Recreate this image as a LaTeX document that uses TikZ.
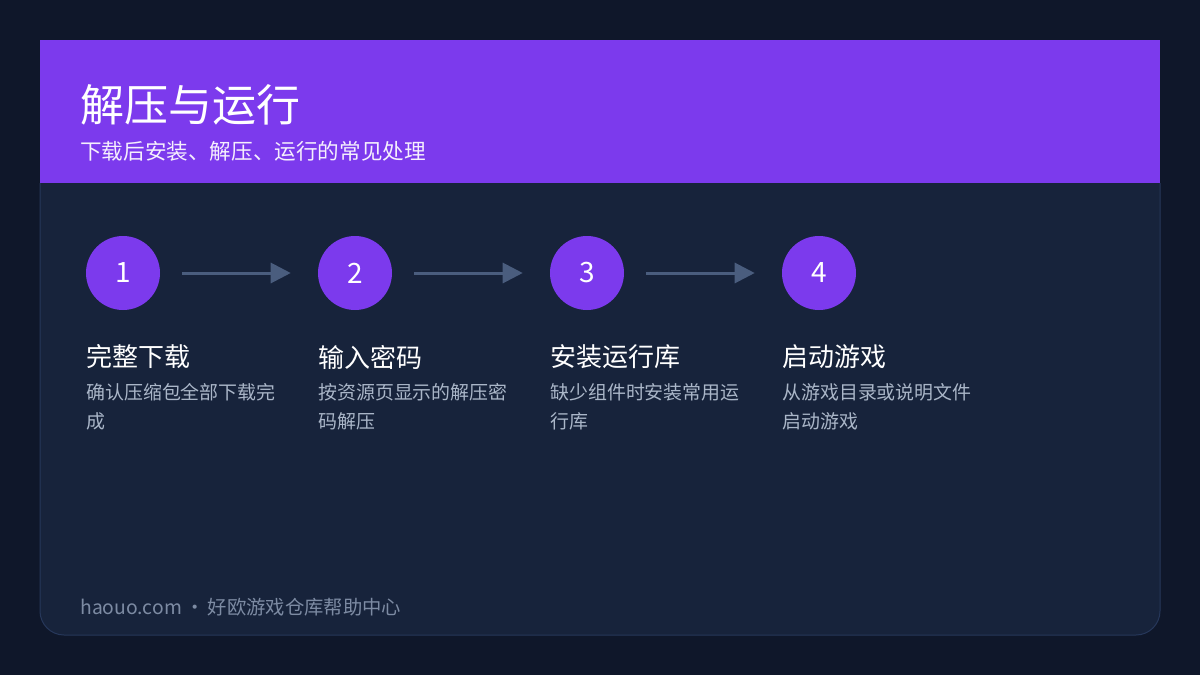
\documentclass[tikz,border=0pt]{standalone}
\usepackage{fontspec}
\setmainfont{Noto Sans CJK SC}
\usetikzlibrary{positioning,arrows.meta}
\definecolor{pagebg}{HTML}{0F172A}
\definecolor{cardbg}{HTML}{17233B}
\definecolor{cardline}{HTML}{26375A}
\definecolor{headbg}{HTML}{7C3AED}
\definecolor{arrowc}{HTML}{4A5D7E}
\definecolor{desctext}{HTML}{AAB6C8}
\definecolor{foottext}{HTML}{7D8BA3}
\tikzset{%
	stepdot/.style = {circle, fill=headbg, minimum size=74*0.75pt, inner sep=0pt,
		text=white, font=\fontsize{21}{24}\selectfont},
	steptitle/.style = {anchor=west, text=white, inner sep=0pt, font=\fontsize{19.5}{22}\selectfont},
	stepdesc/.style = {anchor=north west, text=desctext, inner sep=0pt, align=left,
		font=\fontsize{14.2}{22}\selectfont},
	flow/.style = {arrowc, line width=3*0.75pt, -{Triangle[length=15pt,width=15pt]}}
}
\begin{document}
\begin{tikzpicture}[x=0.75pt, y=-0.75pt]
	\fill[pagebg] (0,0) rectangle (1200,675);
	\useasboundingbox (0,0) rectangle (1200,675);
	\draw[fill=cardbg, draw=cardline, line width=0.75pt, rounded corners=18pt]
		(40,183) -- (40,635) -- (1160,635) -- (1160,183);
	\fill[headbg] (40,40) rectangle (1160,183);
	\node[anchor=west, text=white, inner sep=0pt, font=\fontsize{33}{36}\selectfont] (title) at (80,105) {解压与运行};
	\node[anchor=west, text=white!92!headbg, inner sep=0pt, font=\fontsize{16.2}{18}\selectfont] (subtitle) at (80,151) {下载后安装、解压、运行的常见处理};

	\node[stepdot] (n1) at (123,273) {1};
	\node[stepdot] (n2) at (355,273) {2};
	\node[stepdot] (n3) at (587,273) {3};
	\node[stepdot] (n4) at (819,273) {4};
	\draw[flow] ([xshift=22*0.75pt]n1.east) -- ([xshift=-27*0.75pt]n2.west);
	\draw[flow] ([xshift=22*0.75pt]n2.east) -- ([xshift=-27*0.75pt]n3.west);
	\draw[flow] ([xshift=22*0.75pt]n3.east) -- ([xshift=-27*0.75pt]n4.west);

	\node[steptitle] (t1) at (86,357) {完整下载};
	\node[steptitle] (t2) at (318,357) {输入密码};
	\node[steptitle] (t3) at (550,357) {安装运行库};
	\node[steptitle] (t4) at (782,357) {启动游戏};
	\node[stepdesc] (d1) at (86,383) {确认压缩包全部下载完\\成};
	\node[stepdesc] (d2) at (318,383) {按资源页显示的解压密\\码解压};
	\node[stepdesc] (d3) at (550,383) {缺少组件时安装常用运\\行库};
	\node[stepdesc] (d4) at (782,383) {从游戏目录或说明文件\\启动游戏};

	\node[anchor=west, text=foottext, inner sep=0pt, font=\fontsize{14.5}{16}\selectfont] (foot) at (80,607) {haouo.com\,·\,好欧游戏仓库帮助中心};
\end{tikzpicture}
\end{document}
